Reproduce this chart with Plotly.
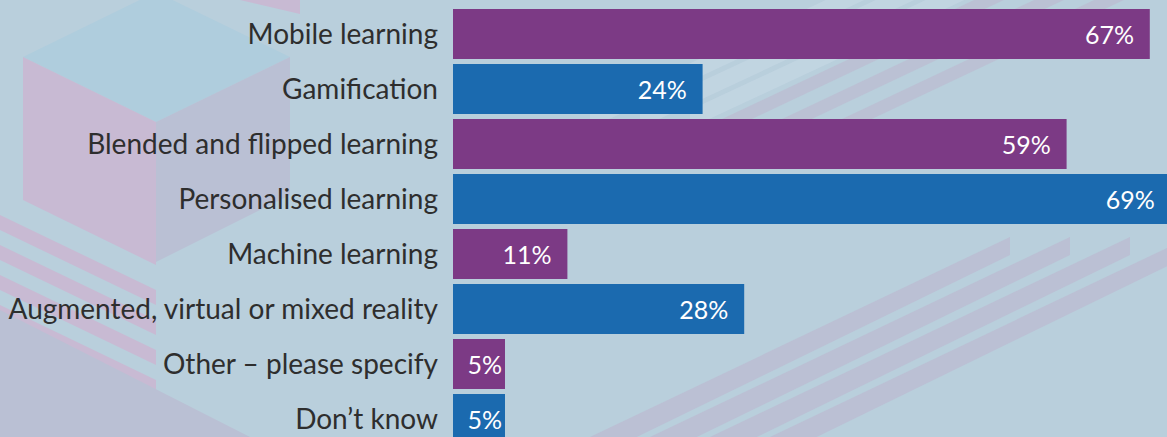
import plotly.graph_objects as go

categories = [
    "Mobile learning",
    "Gamification",
    "Blended and flipped learning",
    "Personalised learning",
    "Machine learning",
    "Augmented, virtual or mixed reality",
    "Other \u2013 please specify",
    "Don\u2019t know",
]
values = [67, 24, 59, 69, 11, 28, 5, 5]
value_labels = [f"{v}%" for v in values]

PURPLE = "#7C3A85"
BLUE = "#1B6AAF"
BG = "#B9CFDC"
bar_colors = [PURPLE if i % 2 == 0 else BLUE for i in range(len(categories))]

# figure is slightly larger than the window: the reference crops the
# longest bar at the right edge and the last bar at the bottom edge
W, H = 1197, 450
L = 453
PX_PER_PCT = 10.4
ROW = 55.0
TOP_OFFSET = 34.0

# inside labels get a little right padding when the bar is wide enough
bar_texts = [t + "\u00a0\u00a0" if v >= 10 else t for t, v in zip(value_labels, values)]


def px(x):
    return (x - L) / (W - L)


def py(y):
    return 1 - y / H


def poly(points, color, opacity=1.0):
    path = "M " + " L ".join(f"{px(x):.5f},{py(y):.5f}" for x, y in points) + " Z"
    return dict(type="path", path=path, xref="paper", yref="paper",
                fillcolor=color, line=dict(width=0), layer="below", opacity=opacity)


shapes = []
# cube faces (decorative background)
shapes.append(poly([(23, 57), (156, -8), (290, 57), (156, 122)], "#AFCDDD"))
shapes.append(poly([(23, 57), (156, 122), (156, 265), (23, 200)], "#C8BAD3"))
shapes.append(poly([(156, 122), (290, 57), (290, 195), (156, 262)], "#BAC0D4"))
shapes.append(poly([(215, 0), (300, 0), (300, 14), (240, 0)], "#C8BAD3"))
# pink stripes lower-left
for y0 in [215, 245, 275, 305]:
    shapes.append(poly([(0, y0), (156, y0 + 75), (156, y0 + 90), (0, y0 + 15)], "#C8BAD3"))
# lower-left grey face
shapes.append(poly([(0, 310), (250, 437), (0, 437)], "#BAC0D4"))
# upper-right pale stripes
for x0 in [590, 640, 690]:
    shapes.append(poly([(x0, 110), (x0 + 300, -30), (x0 + 300, -12), (x0, 128)], "#C3D6E2", 0.8))
for x0 in [720, 780, 840]:
    shapes.append(poly([(x0, 120), (x0 + 360, -50), (x0 + 360, -36), (x0, 134)], "#BBBFD3", 0.9))
# lower-right muted stripes
for x0 in [590, 650, 710, 770]:
    shapes.append(poly([(x0, 437), (x0 + 420, 237), (x0 + 420, 255), (x0 + 20, 450)], "#BBBED3", 0.9))

fig = go.Figure(
    go.Bar(
        x=values,
        y=categories,
        orientation="h",
        marker=dict(color=bar_colors, line=dict(width=0)),
        text=bar_texts,
        textposition="inside",
        insidetextanchor="end",
        textangle=0,
        textfont=dict(family="Lato", size=25, color="white"),
        cliponaxis=True,
        hoverinfo="skip",
    )
)

fig.update_layout(
    width=W,
    height=H,
    margin=dict(l=L, r=0, t=0, b=0),
    paper_bgcolor=BG,
    plot_bgcolor="rgba(0,0,0,0)",
    bargap=5 / ROW,
    showlegend=False,
    shapes=shapes,
)
fig.update_xaxes(range=[0, (W - L) / PX_PER_PCT], visible=False, fixedrange=True)
fig.update_yaxes(
    categoryorder="array",
    categoryarray=categories,
    range=[-TOP_OFFSET / ROW + H / ROW, -TOP_OFFSET / ROW],
    showgrid=False,
    zeroline=False,
    showline=False,
    ticks="",
    ticklabelstandoff=14,
    tickfont=dict(family="Lato", size=28, color="#2E2E2E"),
    fixedrange=True,
)

fig.write_html(
    "out.html",
    config={"displayModeBar": False, "staticPlot": True},
    post_script=(
        "document.documentElement.style.overflow='hidden';"
        "document.body.style.overflow='hidden';"
        "document.body.style.margin='0';"
        "document.body.style.background='" + BG + "';"
    ),
)
